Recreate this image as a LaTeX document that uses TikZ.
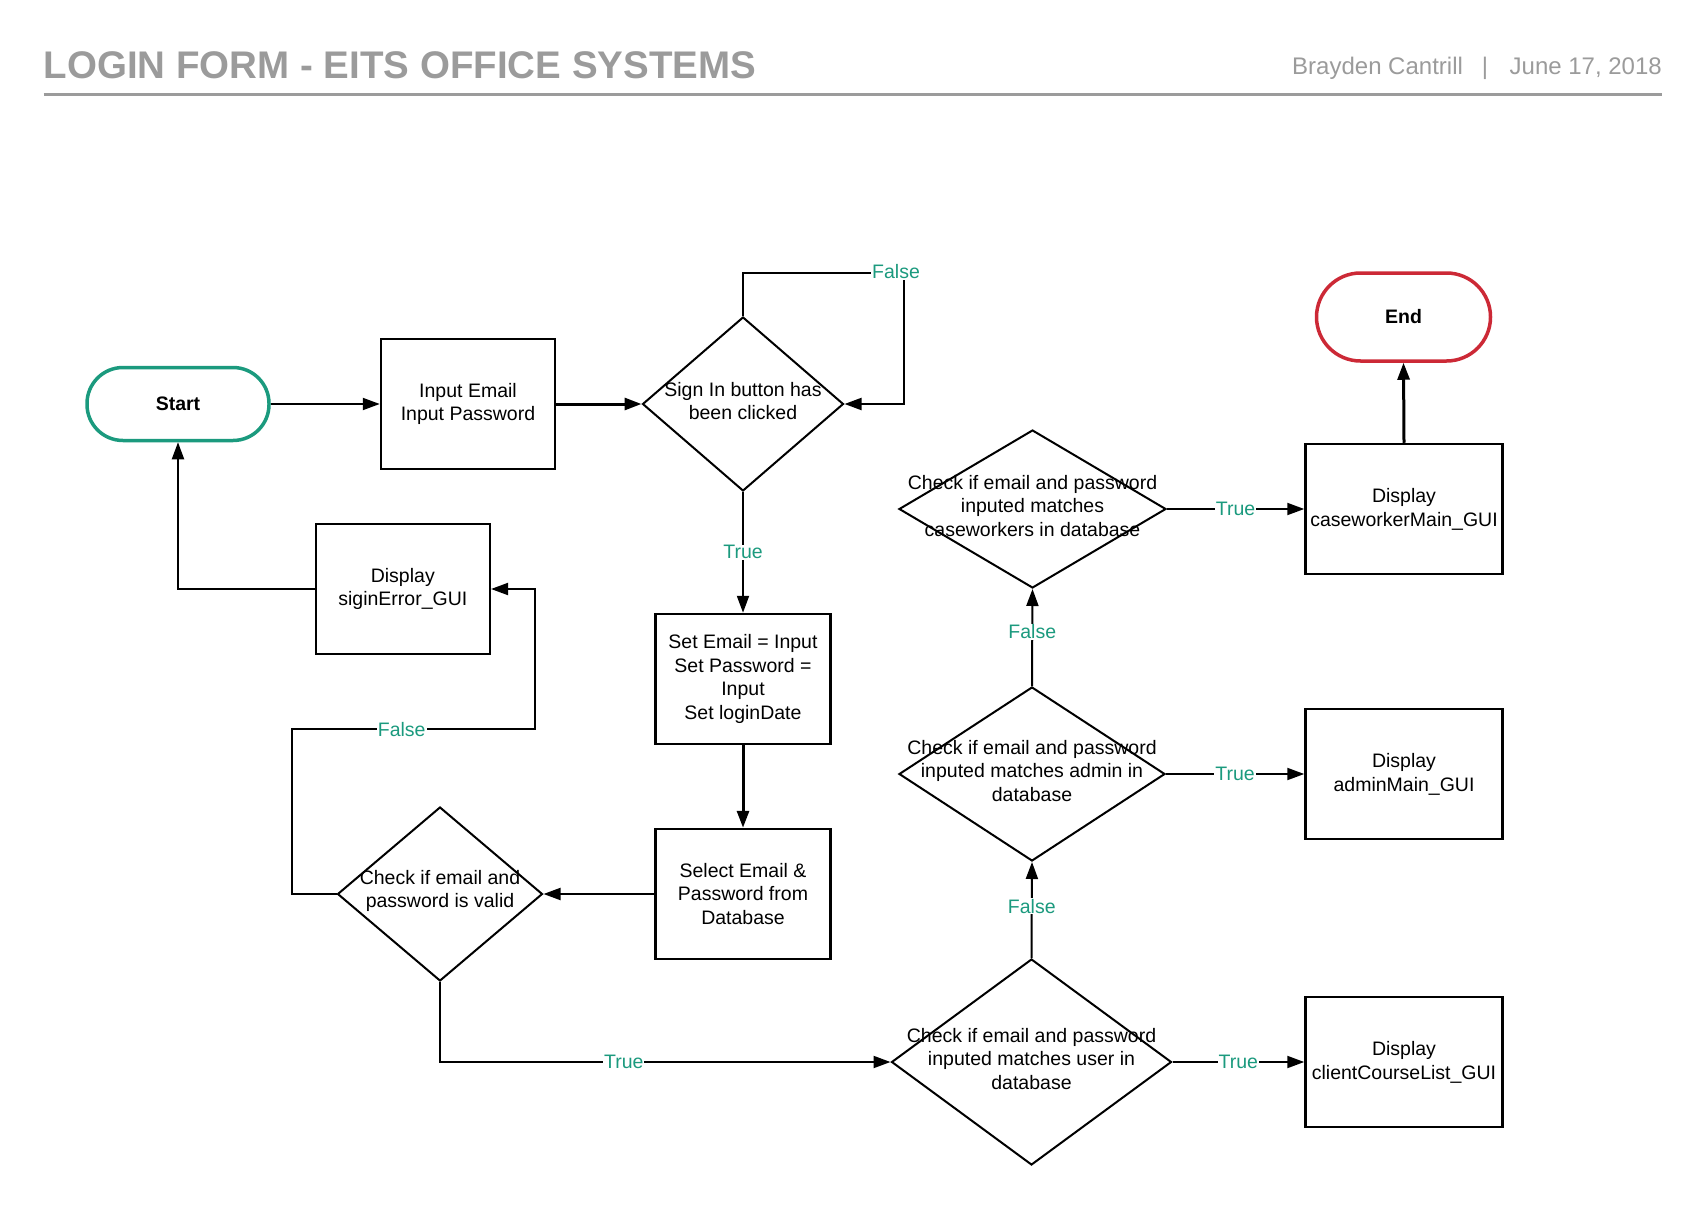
\documentclass[tikz,border=0pt]{standalone}
\usepackage{fontspec}
\setmainfont{Liberation Sans}
\usetikzlibrary{arrows.meta,shapes.geometric}
\definecolor{teal1}{HTML}{1B9A7E}
\definecolor{red1}{HTML}{CC2936}
\definecolor{hdr}{HTML}{9B9B9B}
\tikzset{
  body/.style={font=\fontsize{19.5}{23.8}\selectfont},
  box/.style={draw, line width=2.5pt, minimum width=175pt, minimum height=130pt, align=center, inner sep=0pt, body},
  widebox/.style={box, minimum width=197pt},
  dia/.style={draw, diamond, line width=2pt, inner sep=0pt},
  dtxt/.style={align=center, body, inner sep=0pt},
  arr/.style={line width=2pt, -{Triangle[length=17pt,width=12pt]}},
  tarr/.style={line width=3pt, -{Triangle[length=17pt,width=12pt]}},
  lbl/.style={fill=white, text=teal1, inner sep=1pt, body},
  term/.style={draw, line width=3.5pt, align=center, inner sep=0pt, font=\bfseries\fontsize{19.5}{23.8}\selectfont},
}
\begin{document}
\begin{tikzpicture}[x=1pt,y=-1pt]
\useasboundingbox (0,0) rectangle (1707,1209);
% header
\node[anchor=base west, text=hdr, inner sep=0pt, font=\bfseries\fontsize{38.5}{40}\selectfont] (title) at (43.5,79) {LOGIN FORM - EITS OFFICE SYSTEMS};
\node[anchor=base west, text=hdr, inner sep=0pt, font=\fontsize{24}{26}\selectfont] (author) at (1292,75) {Brayden Cantrill};
\node[anchor=base, text=hdr, inner sep=0pt, font=\fontsize{24}{26}\selectfont] (bar) at (1485,75) {|};
\node[anchor=base east, text=hdr, inner sep=0pt, font=\fontsize{24}{26}\selectfont] (date) at (1662,75) {June 17, 2018};
\coordinate (h1) at (43.5,94.5);
\coordinate (h2) at (1662,94.5);
\draw[hdr, line width=2.5pt] (h1) -- (h2);

% terminals
\node[term, draw=teal1, minimum width=182pt, minimum height=73pt, rounded corners=36pt] (start) at (178,404) {Start};
\node[term, draw=red1, minimum width=174pt, minimum height=88pt, rounded corners=44pt] (end) at (1403.5,317) {End};

% boxes
\node[box, minimum width=174pt] (input) at (468,404) {Input Email\\Input Password};
\node[box] (setb) at (743,679) {Set Email = Input\\Set Password =\\Input\\Set loginDate};
\node[box] (sel) at (743,894) {Select Email \&\\Password from\\Database};
\node[box, minimum width=174pt] (err) at (402.8,589) {Display\\siginError\_GUI};
\node[widebox] (dcase) at (1404,509) {Display\\caseworkerMain\_GUI};
\node[widebox] (dadmin) at (1404,774) {Display\\adminMain\_GUI};
\node[widebox] (dclient) at (1404,1062) {Display\\clientCourseList\_GUI};

% diamonds
\node[dia, minimum width=201pt, minimum height=174pt] (sign) at (743,404) {};
\node[dtxt] (signT) at (743,401) {Sign In button has\\been clicked};
\node[dia, minimum width=205pt, minimum height=174pt] (valid) at (440,894) {};
\node[dtxt] (validT) at (440,891) {Check if email and\\password is valid};
\node[dia, minimum width=280pt, minimum height=206pt] (user) at (1031.5,1062) {};
\node[dtxt] (userT) at (1031.5,1059) {Check if email and password\\inputed matches user in\\database};
\node[dia, minimum width=266pt, minimum height=174pt] (admin) at (1032,774) {};
\node[dtxt] (adminT) at (1032,771) {Check if email and password\\inputed matches admin in\\database};
\node[dia, minimum width=267pt, minimum height=158pt] (casew) at (1032.5,509) {};
\node[dtxt] (casewT) at (1032.5,506) {Check if email and password\\inputed matches\\caseworkers in database};

% connectors
\draw[arr] (start.east) -- (input.west);
\draw[tarr] (input.east) -- (sign.west);
\coordinate (f1) at (903.6,273.3);
\draw[arr] (sign.north) |- (f1) |- (sign.east);
\node[lbl] (lf1) at (896,272) {False};
\draw[arr] (sign.south) -- node[lbl] (lt1) {True} (setb.north);
\draw[tarr] (setb.south) -- (sel.north);
\draw[arr] (sel.west) -- (valid.east);
\coordinate (v1) at (291.8,729.4);
\coordinate (v2) at (534.5,729.4);
\draw[arr] (valid.west) -| (v1) -- (v2) |- (err.east);
\node[lbl] (lf2) at (401.7,729.4) {False};
\draw[arr] (err.west) -| (start.south);
\draw[arr] (valid.south) |- (user.west);
\node[lbl] (lt2) at (623.8,1062) {True};
\draw[arr] (user.north) -- node[lbl, pos=0.54] (lf3) {False} (admin.south);
\draw[arr] (admin.north) -- node[lbl, pos=0.56] (lf4) {False} (casew.south);
\draw[arr] (casew.east) -- node[lbl, pos=0.5] (lt3) {True} (dcase.west);
\draw[arr] (admin.east) -- node[lbl, pos=0.5] (lt4) {True} (dadmin.west);
\draw[arr] (user.east) -- node[lbl, pos=0.5] (lt5) {True} (dclient.west);
\draw[tarr] (dcase.north) -- (end.south);
\end{tikzpicture}
\end{document}
